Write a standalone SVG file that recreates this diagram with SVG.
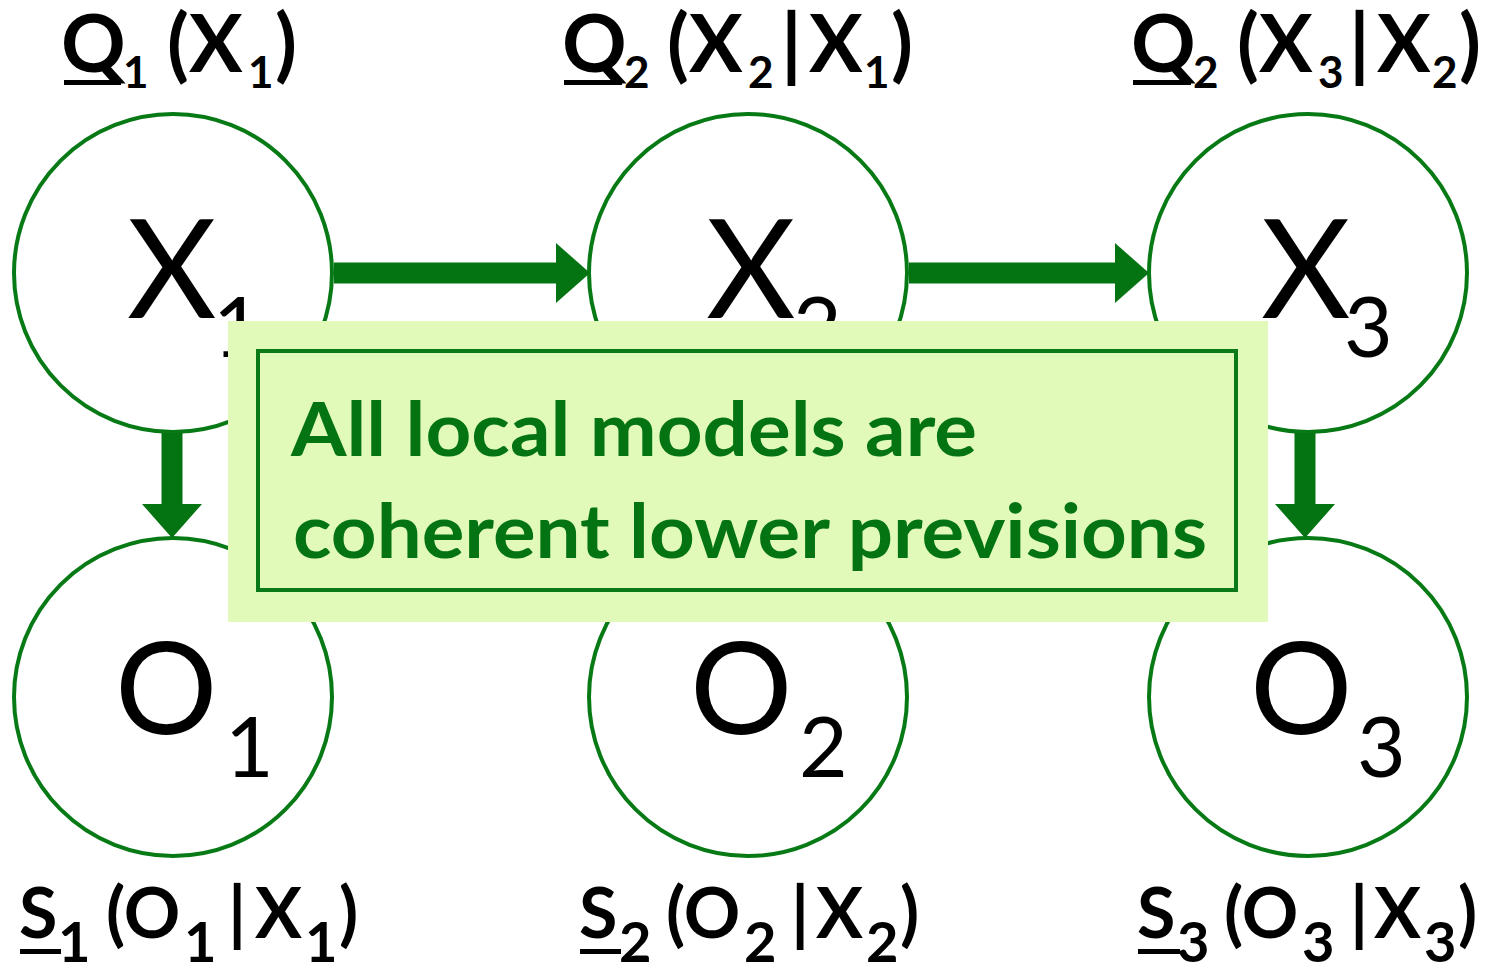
<svg xmlns="http://www.w3.org/2000/svg" width="1491" height="968" viewBox="0 0 1491 968">
<style>
.node{fill:#ffffff;stroke:#077a16;stroke-width:4}
.big{font-family:Lato,"Open Sans","Liberation Sans",sans-serif;font-weight:400;fill:#000}
.lbl{font-family:Lato,"Open Sans","Liberation Sans",sans-serif;font-weight:700;fill:#000}
.conn{stroke:#047413;stroke-width:21;fill:none}
.ul{fill:#000}
.box{fill:#e1fab9}
.inner{fill:none;stroke:#0a7a18;stroke-width:4}
.boxtxt{font-family:Lato,"Open Sans","Liberation Sans",sans-serif;font-weight:700;font-size:74px;fill:#047413}
</style>
<defs>
<marker id="head" markerUnits="userSpaceOnUse" viewBox="0 0 34 60" markerWidth="34" markerHeight="60" refX="0" refY="30" orient="auto">
<path d="M0,0 L34,30 L0,60 Z" fill="#047413"/>
</marker>
</defs>
<rect width="1491" height="968" fill="#ffffff"/>

<g id="node-X1">
<circle class="node" cx="173" cy="273" r="159"/>
<text class="big" font-size="138" x="127" y="318">X</text>
<text class="big" font-size="84" x="213" y="357">1</text>
</g>
<g id="node-X2">
<circle class="node" cx="748" cy="273" r="159"/>
<text class="big" font-size="138" x="706" y="318">X</text>
<text class="big" font-size="84" x="793" y="357">2</text>
</g>
<g id="node-X3">
<circle class="node" cx="1308" cy="273" r="159"/>
<text class="big" font-size="138" x="1261" y="318">X</text>
<text class="big" font-size="84" x="1344" y="357">3</text>
</g>
<g id="node-O1">
<circle class="node" cx="173" cy="697" r="159"/>
<text class="big" font-size="128" x="115" y="734">O</text>
<text class="big" font-size="84" x="225" y="777">1</text>
</g>
<g id="node-O2">
<circle class="node" cx="748" cy="697" r="159"/>
<text class="big" font-size="128" x="690" y="734">O</text>
<text class="big" font-size="84" x="799" y="777">2</text>
</g>
<g id="node-O3">
<circle class="node" cx="1308" cy="697" r="159"/>
<text class="big" font-size="128" x="1250" y="734">O</text>
<text class="big" font-size="84" x="1357" y="777">3</text>
</g>

<g id="connectors">
<line class="conn" x1="334" y1="273" x2="556" y2="273" marker-end="url(#head)"/>
<line class="conn" x1="909" y1="273" x2="1115" y2="273" marker-end="url(#head)"/>
<line class="conn" x1="172" y1="433" x2="172" y2="504" marker-end="url(#head)"/>
<line class="conn" x1="1305" y1="433" x2="1305" y2="504" marker-end="url(#head)"/>
</g>

<g id="label-Q1">
<text class="lbl" font-size="80"><tspan x="61" y="72">Q</tspan><tspan x="123" y="88" font-size="44">1</tspan><tspan x="167" y="72">(X</tspan><tspan x="248" y="88" font-size="44">1</tspan><tspan x="275" y="72">)</tspan></text>
<rect class="ul" x="64" y="80" width="57" height="5"/>
</g>
<g id="label-Q2">
<text class="lbl" font-size="80"><tspan x="562" y="72">Q</tspan><tspan x="624" y="88" font-size="44">2</tspan><tspan x="667" y="72">(X</tspan><tspan x="748" y="88" font-size="44">2</tspan><tspan x="781" y="72">|</tspan><tspan x="809" y="72">X</tspan><tspan x="864" y="88" font-size="44">1</tspan><tspan x="891" y="72">)</tspan></text>
<rect class="ul" x="564" y="80" width="58" height="5"/>
</g>
<g id="label-Q3">
<text class="lbl" font-size="80"><tspan x="1131" y="72">Q</tspan><tspan x="1193" y="88" font-size="44">2</tspan><tspan x="1237" y="72">(X</tspan><tspan x="1318" y="88" font-size="44">3</tspan><tspan x="1349" y="72">|</tspan><tspan x="1377" y="72">X</tspan><tspan x="1432" y="88" font-size="44">2</tspan><tspan x="1459" y="72">)</tspan></text>
<rect class="ul" x="1133" y="80" width="58" height="5"/>
</g>

<g id="label-S1">
<text class="lbl" font-size="70"><tspan x="19" y="938">S</tspan><tspan x="58" y="962" font-size="56">1</tspan><tspan x="106" y="938">(O</tspan><tspan x="184" y="962" font-size="56">1</tspan><tspan x="228" y="938">|</tspan><tspan x="255" y="938">X</tspan><tspan x="305" y="962" font-size="56">1</tspan><tspan x="339" y="938">)</tspan></text>
<rect class="ul" x="20" y="949" width="41" height="5"/>
</g>
<g id="label-S2">
<text class="lbl" font-size="70"><tspan x="579" y="938">S</tspan><tspan x="619" y="962" font-size="56">2</tspan><tspan x="666" y="938">(O</tspan><tspan x="744" y="962" font-size="56">2</tspan><tspan x="791" y="938">|</tspan><tspan x="816" y="938">X</tspan><tspan x="866" y="962" font-size="56">2</tspan><tspan x="900" y="938">)</tspan></text>
<rect class="ul" x="580" y="949" width="41" height="5"/>
</g>
<g id="label-S3">
<text class="lbl" font-size="70"><tspan x="1137" y="938">S</tspan><tspan x="1177" y="962" font-size="56">3</tspan><tspan x="1224" y="938">(O</tspan><tspan x="1302" y="962" font-size="56">3</tspan><tspan x="1350" y="938">|</tspan><tspan x="1374" y="938">X</tspan><tspan x="1424" y="962" font-size="56">3</tspan><tspan x="1458" y="938">)</tspan></text>
<rect class="ul" x="1138" y="949" width="42" height="5"/>
</g>

<g id="note">
<rect class="box" x="228" y="321" width="1040" height="301"/>
<rect class="inner" x="258" y="351" width="978" height="239"/>
<text class="boxtxt" x="291" y="456" textLength="686" lengthAdjust="spacingAndGlyphs">All local models are</text>
<text class="boxtxt" x="293" y="558" textLength="914" lengthAdjust="spacingAndGlyphs">coherent lower previsions</text>
</g>
</svg>
